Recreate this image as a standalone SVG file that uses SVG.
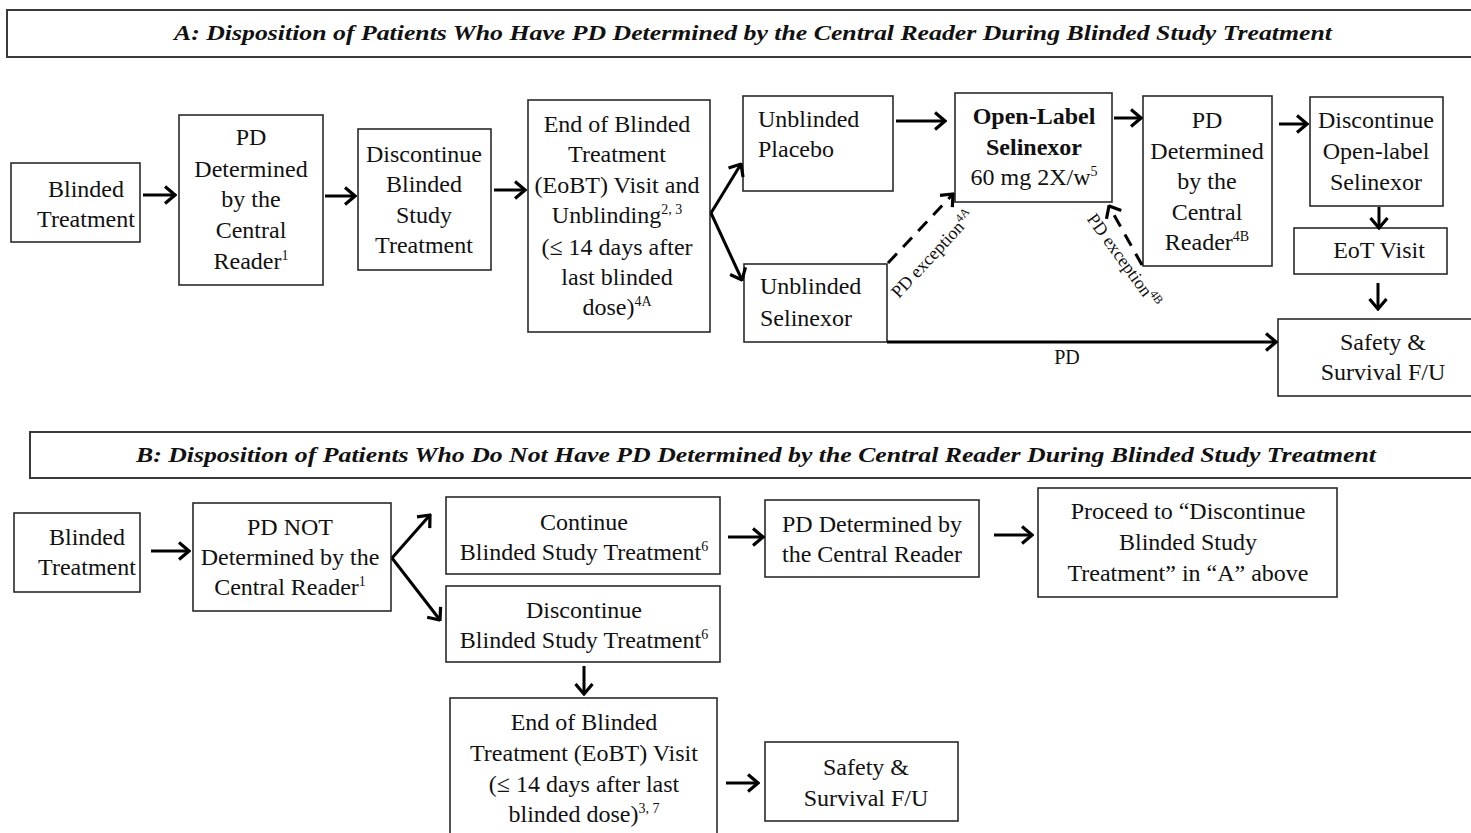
<svg xmlns="http://www.w3.org/2000/svg" width="1471" height="833" viewBox="0 0 1471 833">
<defs>
<style>
.bx{fill:#fff;stroke:#2a2a2a;stroke-width:1.6}
.hb{fill:#fff;stroke:#3a3a3a;stroke-width:2}
.t{font-family:"Liberation Serif","Times New Roman",serif;font-size:24px;fill:#111}
.c{text-anchor:middle}
.b{font-weight:bold}
.h{font-family:"Liberation Serif","Times New Roman",serif;font-size:21px;font-weight:bold;font-style:italic;fill:#111}
.lb{font-family:"Liberation Serif","Times New Roman",serif;font-size:18px;fill:#111}
.pd{font-family:"Liberation Serif","Times New Roman",serif;font-size:20px;fill:#111;text-anchor:middle}
.a{fill:none;stroke:#000;stroke-width:3;marker-end:url(#ah)}
.d{fill:none;stroke:#000;stroke-width:3;stroke-dasharray:13,9;marker-end:url(#ah)}
</style>
<marker id="ah" viewBox="0 0 13 20" refX="11.5" refY="10" markerWidth="13" markerHeight="20" markerUnits="userSpaceOnUse" orient="auto">
<path d="M1.5,1.5 L11.5,10 L1.5,18.5" fill="none" stroke="#000" stroke-width="3.2"/>
</marker>
</defs>
<rect width="1471" height="833" fill="#fff"/>

<g id="headerA">
<rect class="hb" x="7" y="10" width="1470" height="47"/>
<text class="h" x="174" y="40" textLength="1158" lengthAdjust="spacingAndGlyphs">A: Disposition of Patients Who Have PD Determined by the Central Reader During Blinded Study Treatment</text>
</g>
<g id="headerB">
<rect class="hb" x="30" y="432" width="1450" height="46"/>
<text class="h" x="136" y="462" textLength="1240" lengthAdjust="spacingAndGlyphs">B: Disposition of Patients Who Do Not Have PD Determined by the Central Reader During Blinded Study Treatment</text>
</g>

<g id="a_blinded">
<rect class="bx" x="11" y="163" width="129" height="79"/>
<text class="t c" x="86" y="197">Blinded</text>
<text class="t c" x="86" y="227">Treatment</text>
</g>
<g id="a_pd_central">
<rect class="bx" x="179" y="115" width="144" height="170"/>
<text class="t c" x="251" y="145">PD</text>
<text class="t c" x="251" y="177">Determined</text>
<text class="t c" x="251" y="207">by the</text>
<text class="t c" x="251" y="238">Central</text>
<text class="t c" x="251" y="269">Reader<tspan font-size="14" dy="-9">1</tspan></text>
</g>
<g id="a_discontinue">
<rect class="bx" x="358" y="129" width="133" height="141"/>
<text class="t c" x="424" y="162">Discontinue</text>
<text class="t c" x="424" y="192">Blinded</text>
<text class="t c" x="424" y="223">Study</text>
<text class="t c" x="424" y="253">Treatment</text>
</g>
<g id="a_eobt">
<rect class="bx" x="528" y="100" width="182" height="232"/>
<text class="t c" x="617" y="132">End of Blinded</text>
<text class="t c" x="617" y="162">Treatment</text>
<text class="t c" x="617" y="193">(EoBT) Visit and</text>
<text class="t c" x="617" y="223">Unblinding<tspan font-size="14" dy="-9">2,  3</tspan></text>
<text class="t c" x="617" y="255">(≤ 14 days after</text>
<text class="t c" x="617" y="285">last blinded</text>
<text class="t c" x="617" y="315">dose)<tspan font-size="14" dy="-9">4A</tspan></text>
</g>
<g id="a_unbl_placebo">
<rect class="bx" x="743" y="96" width="150" height="95"/>
<text class="t" x="758" y="127">Unblinded</text>
<text class="t" x="758" y="157">Placebo</text>
</g>
<g id="a_unbl_selinexor">
<rect class="bx" x="744" y="264" width="143" height="78"/>
<text class="t" x="760" y="294">Unblinded</text>
<text class="t" x="760" y="326">Selinexor</text>
</g>
<g id="a_openlabel">
<rect class="bx" x="955" y="93" width="157" height="109"/>
<text class="t c b" x="1034" y="124">Open-Label</text>
<text class="t c b" x="1034" y="155">Selinexor</text>
<text class="t c" x="1034" y="185">60 mg  2X/w<tspan font-size="14" dy="-9">5</tspan></text>
</g>
<g id="a_pd_central2">
<rect class="bx" x="1143" y="96" width="129" height="170"/>
<text class="t c" x="1207" y="128">PD</text>
<text class="t c" x="1207" y="159">Determined</text>
<text class="t c" x="1207" y="189">by the</text>
<text class="t c" x="1207" y="220">Central</text>
<text class="t c" x="1207" y="250">Reader<tspan font-size="14" dy="-9">4B</tspan></text>
</g>
<g id="a_disc_ol">
<rect class="bx" x="1310" y="97" width="133" height="109"/>
<text class="t c" x="1376" y="128">Discontinue</text>
<text class="t c" x="1376" y="159">Open-label</text>
<text class="t c" x="1376" y="190">Selinexor</text>
</g>
<g id="a_eot">
<rect class="bx" x="1294" y="228" width="153" height="46"/>
<text class="t c" x="1379" y="258">EoT Visit</text>
</g>
<g id="a_safety">
<rect class="bx" x="1278" y="319" width="195" height="77"/>
<text class="t c" x="1383" y="350">Safety &amp;</text>
<text class="t c" x="1383" y="380">Survival F/U</text>
</g>

<g id="b_blinded">
<rect class="bx" x="14" y="513" width="126" height="79"/>
<text class="t c" x="87" y="545">Blinded</text>
<text class="t c" x="87" y="575">Treatment</text>
</g>
<g id="b_pd_not">
<rect class="bx" x="193" y="503" width="198" height="108"/>
<text class="t c" x="290" y="535">PD NOT</text>
<text class="t c" x="290" y="565">Determined  by the</text>
<text class="t c" x="290" y="595">Central Reader<tspan font-size="14" dy="-9">1</tspan></text>
</g>
<g id="b_continue">
<rect class="bx" x="446" y="497" width="274" height="77"/>
<text class="t c" x="584" y="530">Continue</text>
<text class="t c" x="584" y="560">Blinded Study Treatment<tspan font-size="14" dy="-9">6</tspan></text>
</g>
<g id="b_discontinue">
<rect class="bx" x="446" y="586" width="274" height="76"/>
<text class="t c" x="584" y="618">Discontinue</text>
<text class="t c" x="584" y="648">Blinded Study Treatment<tspan font-size="14" dy="-9">6</tspan></text>
</g>
<g id="b_pd_det">
<rect class="bx" x="765" y="500" width="214" height="77"/>
<text class="t c" x="872" y="532">PD Determined  by</text>
<text class="t c" x="872" y="562">the  Central Reader</text>
</g>
<g id="b_proceed">
<rect class="bx" x="1038" y="488" width="299" height="109"/>
<text class="t c" x="1188" y="519">Proceed to “Discontinue</text>
<text class="t c" x="1188" y="550">Blinded Study</text>
<text class="t c" x="1188" y="581">Treatment”  in “A” above</text>
</g>
<g id="b_eobt">
<rect class="bx" x="450" y="698" width="267" height="145"/>
<text class="t c" x="584" y="730">End of Blinded</text>
<text class="t c" x="584" y="761">Treatment  (EoBT) Visit</text>
<text class="t c" x="584" y="792">(≤ 14 days after last</text>
<text class="t c" x="584" y="822">blinded dose)<tspan font-size="14" dy="-9">3, 7</tspan></text>
</g>
<g id="b_safety">
<rect class="bx" x="765" y="742" width="193" height="79"/>
<text class="t c" x="866" y="775">Safety &amp;</text>
<text class="t c" x="866" y="806">Survival F/U</text>
</g>

<g id="connectors">
<line class="a" x1="143" y1="195" x2="175" y2="195"/>
<line class="a" x1="325" y1="196" x2="355" y2="196"/>
<line class="a" x1="494" y1="190" x2="525" y2="190"/>
<line class="a" x1="711" y1="213" x2="741" y2="164"/>
<line class="a" x1="711" y1="213" x2="742" y2="280"/>
<line class="a" x1="896" y1="121" x2="945" y2="121"/>
<line class="a" x1="1114" y1="118" x2="1141" y2="118"/>
<line class="a" x1="1279" y1="124" x2="1307" y2="124"/>
<line class="a" x1="1379" y1="207" x2="1379" y2="228"/>
<line class="a" x1="1378" y1="283" x2="1378" y2="309"/>
<line class="a" x1="887" y1="342" x2="1276" y2="342"/>
<line class="d" x1="888" y1="263" x2="953" y2="194"/>
<line class="d" x1="1142" y1="265" x2="1109" y2="206"/>
<text class="pd" x="1067" y="364">PD</text>
<text class="lb" text-anchor="middle" transform="translate(937,258) rotate(-47)">PD exception<tspan font-size="12" dy="-7">4A</tspan></text>
<text class="lb" text-anchor="middle" transform="translate(1119,264) rotate(54)">PD exception<tspan font-size="12" dy="-7">4B</tspan></text>

<line class="a" x1="151" y1="551" x2="189" y2="551"/>
<line class="a" x1="392" y1="558" x2="430" y2="515"/>
<line class="a" x1="392" y1="558" x2="440" y2="620"/>
<line class="a" x1="728" y1="537" x2="763" y2="537"/>
<line class="a" x1="994" y1="535" x2="1032" y2="535"/>
<line class="a" x1="584" y1="666" x2="584" y2="694"/>
<line class="a" x1="726" y1="783" x2="758" y2="783"/>
</g>
</svg>
